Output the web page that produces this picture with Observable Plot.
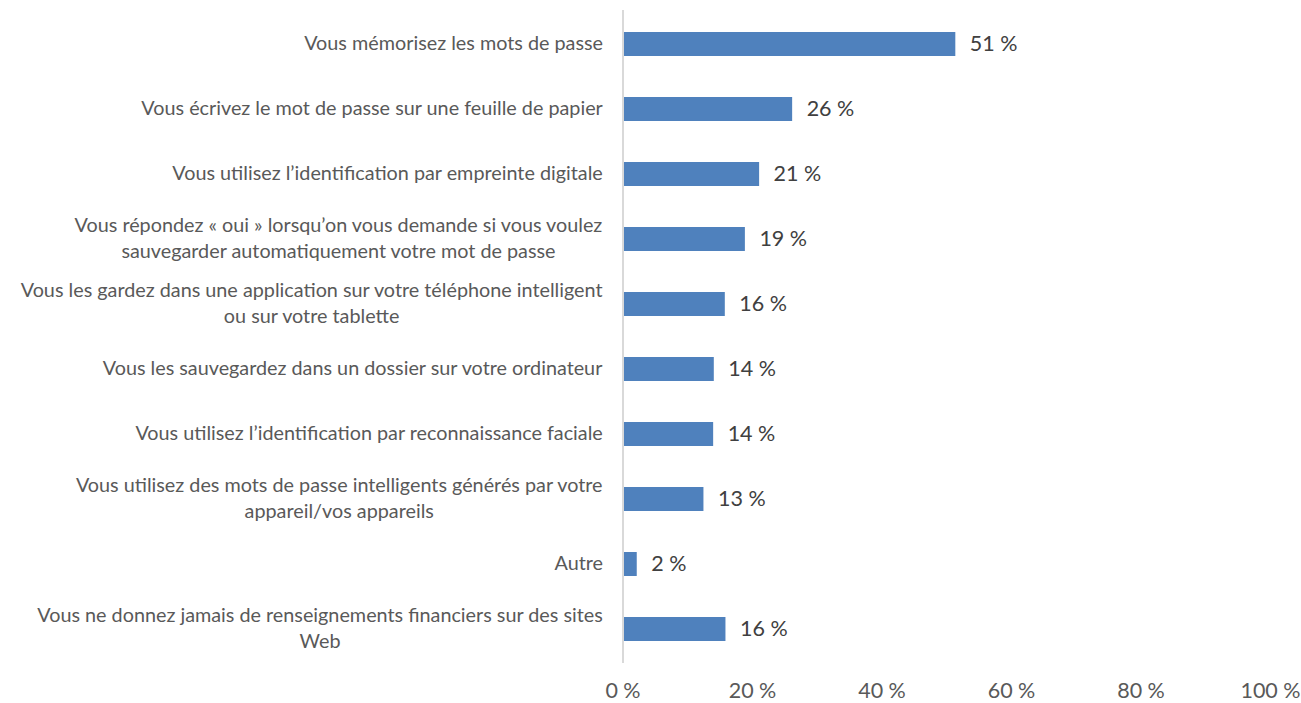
<!DOCTYPE html>
<html>
<head>
<meta charset="utf-8">
<script src="https://cdn.jsdelivr.net/npm/d3@7"></script>
<script src="https://cdn.jsdelivr.net/npm/@observablehq/plot@0.6"></script>
<style>
  html, body { margin: 0; padding: 0; background: #ffffff; }
  #chart svg { display: block; }
</style>
</head>
<body>
<div id="chart"></div>
<script>
const categories = [
  "Vous mémorisez les mots de passe",
  "Vous écrivez le mot de passe sur une feuille de papier",
  "Vous utilisez l’identification par empreinte digitale",
  "Vous répondez « oui » lorsqu’on vous demande si vous voulez\nsauvegarder automatiquement votre mot de passe",
  "Vous les gardez dans une application sur votre téléphone intelligent\nou sur votre tablette",
  "Vous les sauvegardez dans un dossier sur votre ordinateur",
  "Vous utilisez l’identification par reconnaissance faciale",
  "Vous utilisez des mots de passe intelligents générés par votre\nappareil/vos appareils",
  "Autre",
  "Vous ne donnez jamais de renseignements financiers sur des sites\nWeb"
];
const values = [51.4, 26.2, 21.1, 18.9, 15.8, 14.1, 14.0, 12.5, 2.2, 15.9];
const xTicks = [0, 20, 40, 60, 80, 100];

const data = categories.map((c, i) => ({category: c, value: values[i]}));

const catSize = 19.8;
const ctx = document.createElement("canvas").getContext("2d");
ctx.font = catSize + "px Lato";
function maxLineWidth(s) {
  return Math.max(...s.split("\n").map(l => ctx.measureText(l).width));
}

const labelMarks = categories.map(c => Plot.text([c], {
  x: () => 0,
  y: d => d,
  text: d => d,
  textAnchor: "middle",
  lineHeight: 1.32,
  dx: -20 - maxLineWidth(c) / 2,
  dy: -2.5,
  fontSize: catSize,
  fill: "#595959"
}));

const chart = Plot.plot({
  width: 1301,
  height: 703,
  marginLeft: 622.5,
  marginRight: 31,
  marginTop: 10,
  marginBottom: 40,
  style: {fontFamily: "Lato, sans-serif", background: "#ffffff"},
  x: {domain: [0, 100], axis: null},
  y: {domain: categories, paddingInner: 0.63, paddingOuter: 0.315, axis: null},
  marks: [
    Plot.barX(data, {x: "value", y: "category", fill: "#4F81BD"}),
    Plot.ruleX([0], {stroke: "#d9d9d9", strokeWidth: 2}),
    ...labelMarks,
    Plot.text(data, {
      x: "value", y: "category",
      text: d => Math.round(d.value) + " %",
      textAnchor: "start", dx: 14,
      fontSize: 21.5, fill: "#404040"
    }),
    Plot.axisX({
      ticks: xTicks,
      tickSize: 0,
      tickPadding: 19,
      tickFormat: d => d + " %",
      fontSize: 21.5,
      color: "#595959",
      label: null
    })
  ]
});
document.getElementById("chart").appendChild(chart);
</script>
</body>
</html>
